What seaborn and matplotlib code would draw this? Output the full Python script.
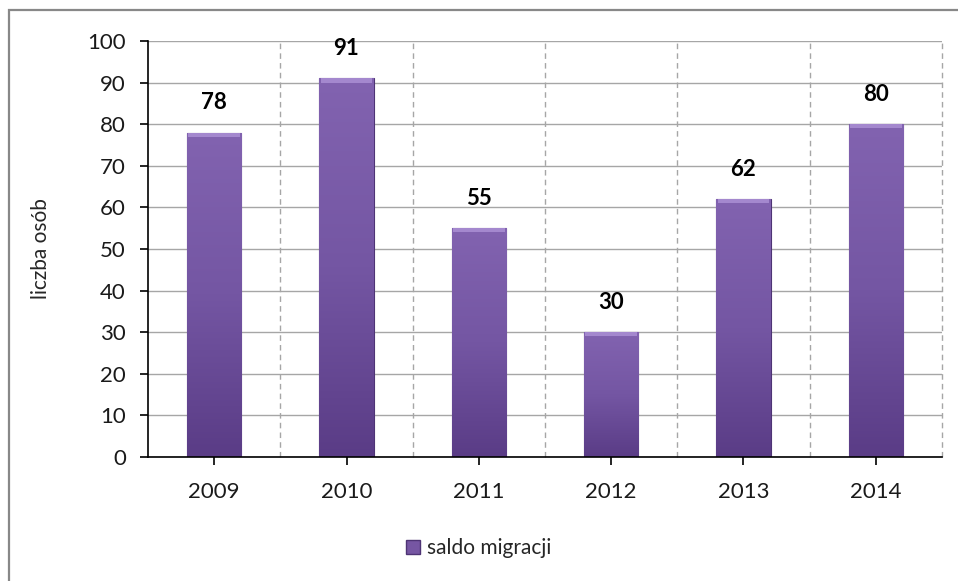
import matplotlib
matplotlib.use("Agg")
import matplotlib.pyplot as plt
import seaborn as sns
import numpy as np
import pandas as pd
from matplotlib.patches import Rectangle
from matplotlib.colors import LinearSegmentedColormap

years = ["2009", "2010", "2011", "2012", "2013", "2014"]
values = [78, 91, 55, 30, 62, 80]
series_name = "saldo migracji"
y_label = "liczba osób"
y_ticks = [0, 10, 20, 30, 40, 50, 60, 70, 80, 90, 100]

sns.set_theme(style="white")
plt.rcParams['font.family'] = ['Lato', 'DejaVu Sans']

df = pd.DataFrame({"rok": years, "wartosc": values})

fig = plt.figure(figsize=(9.58, 5.81), dpi=100)
ax = fig.add_axes([148/958, 1-457/581, (942-148)/958, (457-41)/581])

bar_color = "#7656A3"
sns.barplot(data=df, x="rok", y="wartosc", color=bar_color, width=0.41,
            saturation=1, ax=ax, edgecolor="#4E3475", linewidth=0.8, zorder=3)

# gradient overlay on bars
grad = np.linspace(0, 1, 256).reshape(-1, 1)
cmap = LinearSegmentedColormap.from_list("pg", ["#5A3C86", "#7456A3", "#8263B0"])
for p in ax.patches:
    x0, y0 = p.get_x(), p.get_y()
    w, h = p.get_width(), p.get_height()
    im = ax.imshow(grad, extent=[x0, x0 + w, y0, y0 + h], origin="lower",
                   cmap=cmap, aspect="auto", zorder=3.5)
    im.set_clip_path(p)
    ax.add_patch(Rectangle((x0 + 0.01, y0 + h - 1.0), w - 0.02, 1.0,
                           color="#A488CE", zorder=3.6, lw=0))

ax.set_xlim(-0.5, len(years) - 0.5)
ax.set_ylim(0, 100)
ax.set_yticks(y_ticks)
ax.set_xlabel("")
ax.set_ylabel(y_label, fontsize=15, labelpad=26)

# gridlines
ax.yaxis.grid(True, color="#A6A6A6", lw=1, zorder=0)
for i in range(len(years)):
    ax.axvline(i + 0.5, color="#A6A6A6", lw=1, ls=(0, (4, 3)), zorder=0,
               clip_on=False)

for s in ["top", "right"]:
    ax.spines[s].set_visible(False)
for s in ["left", "bottom"]:
    ax.spines[s].set_color("black")
    ax.spines[s].set_linewidth(1.2)
    ax.spines[s].set_zorder(5)

ax.tick_params(axis="y", which="both", direction="out", length=6, width=1.2,
               color="black", labelsize=16, pad=10, left=True)
ax.tick_params(axis="x", which="both", direction="out", length=6, width=1.2,
               color="black", labelsize=16, pad=12, bottom=True)
for lbl in ax.get_yticklabels() + ax.get_xticklabels():
    lbl.set_color("#1a1a1a")

# data labels
for i, v in enumerate(values):
    ax.annotate(str(v), (i, v), xytext=(0, 14), textcoords="offset points",
                ha="center", va="bottom", fontsize=16, fontweight="bold",
                color="black")

# legend
handle = Rectangle((0, 0), 1, 1, facecolor=bar_color, edgecolor="#4E3475")
fig.legend([handle], [series_name], loc="center", bbox_to_anchor=(0.5, 1 - 548/581),
           frameon=False, fontsize=15, handlelength=0.65, handleheight=0.65,
           handletextpad=0.35)

# outer border
fig.patches.append(Rectangle((9/958, -0.1), 1.2, 1 - 10/581 + 0.1,
                             transform=fig.transFigure, fill=False,
                             edgecolor="#888888", lw=1.6))

fig.savefig("out.png", dpi=100)
